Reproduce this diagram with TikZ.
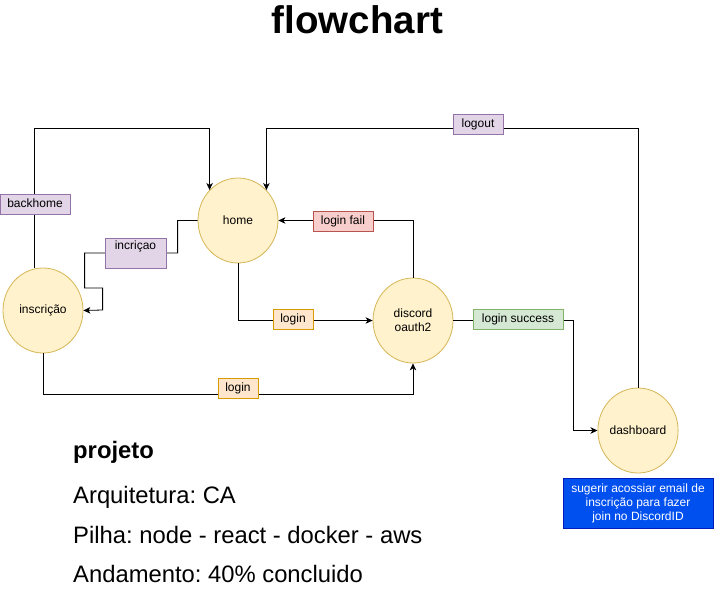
\documentclass[tikz,border=0pt]{standalone}
\usepackage{fontspec}
\setmainfont{Liberation Sans}
\usetikzlibrary{shapes.geometric,arrows.meta,calc}
\frenchspacing
\definecolor{yfill}{HTML}{FFF2CC}\definecolor{ydraw}{HTML}{D6B656}
\definecolor{pfill}{HTML}{E1D5E7}\definecolor{pdraw}{HTML}{9673A6}
\definecolor{ofill}{HTML}{FFE6CC}\definecolor{odraw}{HTML}{D79B00}
\definecolor{rfill}{HTML}{F8CECC}\definecolor{rdraw}{HTML}{B85450}
\definecolor{gfill}{HTML}{D5E8D4}\definecolor{gdraw}{HTML}{82B366}
\definecolor{bfill}{HTML}{0050EF}\definecolor{bdraw}{HTML}{001DBC}
\tikzset{
  state/.style={ellipse, draw=ydraw, fill=yfill, line width=0.8pt, minimum width=80pt, minimum height=85pt, inner sep=0pt, font=\fontsize{12}{14}\selectfont, align=center},
  lbl/.style={draw, line width=0.8pt, inner sep=0pt, minimum height=20pt, text height=8.6pt, text depth=2.6pt, font=\fontsize{12}{14}\selectfont},
  plbl/.style={lbl, fill=pfill, draw=pdraw},
  olbl/.style={lbl, fill=ofill, draw=odraw},
  rlbl/.style={lbl, fill=rfill, draw=rdraw},
  glbl/.style={lbl, fill=gfill, draw=gdraw},
  conn/.style={draw=black, line width=0.8pt},
  arr/.style={conn, -{Stealth[length=7pt,width=6.5pt,inset=2pt]}},
  body/.style={anchor=base west, inner sep=0pt, font=\fontsize{23.8}{28}\selectfont}
}
\begin{document}
\begin{tikzpicture}[x=1pt,y=-1pt]
\useasboundingbox (0,0) rectangle (714,605);
\node[anchor=base, inner sep=0pt, font=\fontsize{38.5}{44}\selectfont\bfseries] (title) at (357.5,33) {flowchart};

\coordinate (top) at (0,128);
\coordinate (bot) at (0,394);
\coordinate (cs) at (573,0);

\node[state] (home) at (238,220.5) {home};
\node[state] (insc) at (43,310.5) {inscrição};
\node[state] (disc) at (413,320.5) {discord\\oauth2};
\node[state] (dash) at (638,430.5) {dashboard};

% connectors
\draw[arr] (insc.101) -- (insc.101 |- top) -| (home.133);
\draw[arr] (dash.north) -- (dash.north |- top) -| (home.47);
\draw[arr] (home.west) -- ++(-20,0) -- ++(0,32.5) -- ++(-93,0) -- ++(0,35) -- ++(18,0) -- ++(0,22) -- (insc.east);
\draw[arr] (home.south) |- (disc.west);
\draw[arr] (disc.north) |- (home.east);
\draw[arr] (insc.south) -- (insc.south |- bot) -| (disc.south);
\draw[arr] (disc.east) -| (cs |- dash.west) -- (dash.west);

% labels
\node[plbl, minimum width=70pt] (lbh) at (35,204) {backhome};
\node[plbl, anchor=base, minimum width=61pt, text height=8.6pt, text depth=16.5pt, inner ysep=2.4pt] (linc) at (135.5,249) {incriçao};
\node[olbl, minimum width=40pt] (llog1) at (293,319) {login};
\node[olbl, minimum width=40pt] (llog2) at (238,388) {login};
\node[rlbl, minimum width=60pt] (lfail) at (343,221) {login fail};
\node[plbl, minimum width=50pt] (lout) at (478,124) {logout};
\node[glbl, minimum width=90pt] (lsucc) at (518,319) {login success};

\node[draw=bdraw, fill=bfill, text=white, line width=0.8pt, minimum width=150pt, minimum height=50pt, inner sep=0pt, align=center, font=\fontsize{12}{14}\selectfont] (note) at (638,503) {sugerir acossiar email de\\inscrição para fazer\\join no DiscordID};

\node[body, font=\fontsize{23.8}{28}\selectfont\bfseries] (t1) at (73,458) {projeto};
\node[body] (t2) at (73,503) {Arquitetura: CA};
\node[body] (t3) at (73,543) {Pilha: node - react - docker - aws};
\node[body] (t4) at (73,582) {Andamento: 40\% concluido};
\end{tikzpicture}
\end{document}
